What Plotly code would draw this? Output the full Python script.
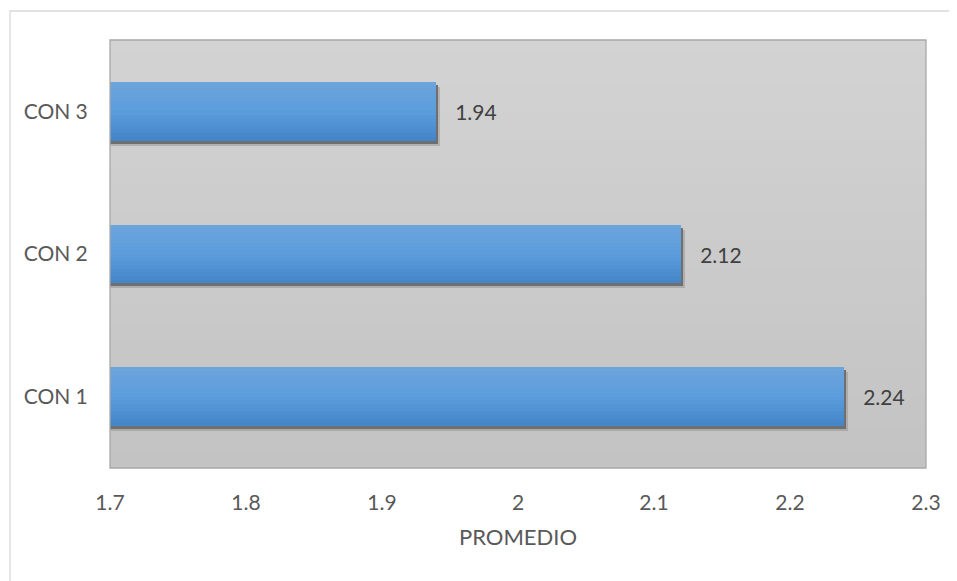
import plotly.graph_objects as go

categories = ["CON 1", "CON 2", "CON 3"]
values = [2.24, 2.12, 1.94]
x_ticks = [1.7, 1.8, 1.9, 2.0, 2.1, 2.2, 2.3]
x_tick_labels = ["1.7", "1.8", "1.9", "2", "2.1", "2.2", "2.3"]
x_title = "PROMEDIO"

FONT = "Lato, 'Open Sans', sans-serif"
BAR_W = 0.41
PX = 1 / 142.7  # one pixel in category units

fig = go.Figure()

# soft shadow (outer light part, then dark core)
fig.add_trace(go.Bar(
    y=categories, x=[v + 0.0025 for v in values], orientation="h",
    width=BAR_W, offset=-BAR_W / 2 - 5 * PX,
    marker=dict(color="rgba(140,140,140,0.45)", line=dict(width=0)),
    hoverinfo="skip", showlegend=False,
))
fig.add_trace(go.Bar(
    y=categories, x=[v + 0.0012 for v in values], orientation="h",
    width=BAR_W, offset=-BAR_W / 2 - 3 * PX,
    marker=dict(color="#6f6f6f", line=dict(width=0)),
    hoverinfo="skip", showlegend=False,
))

# bars with vertical gradient (light top -> darker bottom)
K = 16
top = (0x6c, 0xa4, 0xdc)
mid = (0x5b, 0x9c, 0xdc)
bot = (0x44, 0x86, 0xc8)
for k in range(K):
    t = k / (K - 1)
    if t < 0.5:
        a, b, s = top, mid, t / 0.5
    else:
        a, b, s = mid, bot, (t - 0.5) / 0.5
    col = tuple(int(round(a[i] + (b[i] - a[i]) * s)) for i in range(3))
    w = BAR_W * (1 - k / K)
    first = k == 0
    fig.add_trace(go.Bar(
        y=categories, x=values, orientation="h",
        width=w, offset=-BAR_W / 2,
        marker=dict(color=f"rgb{col}", line=dict(width=0)),
        text=[f"\u00a0\u00a0\u00a0{v:.2f}" for v in values] if first else None,
        textposition="outside" if first else "none",
        constraintext="none",
        textfont=dict(family=FONT, size=21, color="#404040"),
        cliponaxis=False, showlegend=False,
        hoverinfo="x+y" if first else "skip",
    ))

# gradient plot background bands
shapes = []
N = 30
for i in range(N):
    t = i / (N - 1)
    c = int(round(0xd3 - t * (0xd3 - 0xc3)))
    shapes.append(dict(type="rect", xref="paper", yref="paper",
                       x0=0, x1=1, y0=max(0, 1 - (i + 1.6) / N), y1=1 - i / N,
                       fillcolor=f"rgb({c},{c},{c})", line=dict(width=0),
                       layer="below"))
# plot border
shapes.append(dict(type="rect", xref="paper", yref="paper", x0=0, x1=1, y0=0, y1=1,
                   line=dict(color="#a8a8a8", width=1.3), fillcolor="rgba(0,0,0,0)", layer="above"))
# outer chart border
shapes.append(dict(type="rect", xref="paper", yref="paper",
                   x0=(10 - 110) / 816, x1=1.2, y0=-0.4, y1=1 + (40 - 11) / 428,
                   line=dict(color="#d9d9d9", width=1.3), fillcolor="rgba(0,0,0,0)", layer="below"))

fig.update_layout(
    width=949, height=573,
    margin=dict(l=102, r=31, t=32, b=113),
    paper_bgcolor="white", plot_bgcolor="rgba(0,0,0,0)",
    barmode="overlay", bargap=0,
    shapes=shapes,
    font=dict(family=FONT, size=21, color="#595959"),
    xaxis=dict(range=[1.7, 2.3], tickvals=x_ticks, ticktext=x_tick_labels,
               showgrid=False, zeroline=False, showline=False,
               ticks="outside", ticklen=16, tickcolor="rgba(0,0,0,0)",
               tickfont=dict(family=FONT, size=21, color="#595959"),
               title=dict(text=x_title, font=dict(family=FONT, size=22, color="#595959"), standoff=16)),
    yaxis=dict(categoryorder="array", categoryarray=categories,
               showgrid=False, zeroline=False, showline=False,
               ticks="outside", ticklen=17, tickcolor="rgba(0,0,0,0)",
               tickfont=dict(family=FONT, size=21, color="#595959")),
)

fig.write_html("out.html")
